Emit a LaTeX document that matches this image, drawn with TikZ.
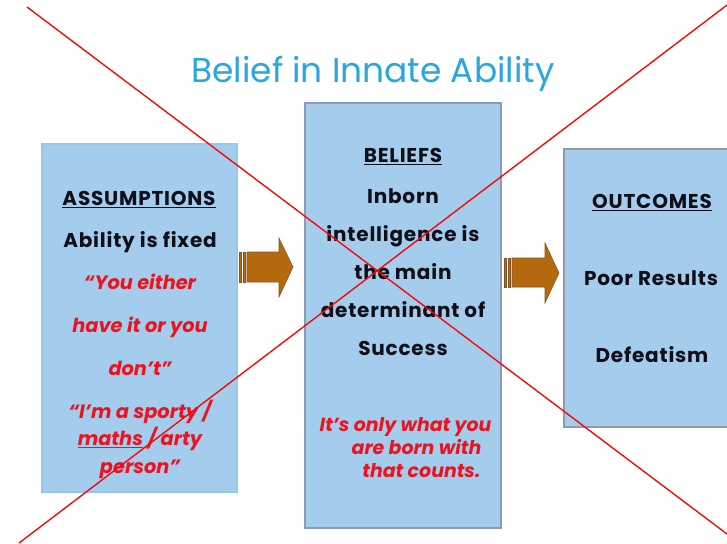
\documentclass[tikz,border=0pt]{standalone}
\usepackage{fontspec}
\setmainfont{Poppins}
\definecolor{titleblue}{RGB}{42,166,222}
\definecolor{boxblue}{RGB}{164,204,236}
\definecolor{boxline}{RGB}{140,155,175}
\definecolor{paleline}{RGB}{150,200,235}
\definecolor{arrowfill}{RGB}{181,105,15}
\definecolor{arrowline}{RGB}{130,85,40}
\definecolor{quotered}{RGB}{235,20,30}
\definecolor{inkblack}{RGB}{15,15,25}
\begin{document}
\begin{tikzpicture}[x=0.75pt,y=-0.75pt,
  panel/.style={fill=boxblue,draw=boxline,line width=0.8pt,inner sep=0pt},
  head/.style={anchor=base,text=inkblack,font=\fontsize{15}{18}\selectfont\bfseries\addfontfeature{LetterSpace=4}},
  plain/.style={anchor=base,text=inkblack,align=center,font=\fontsize{15}{28.5}\selectfont\bfseries\addfontfeature{LetterSpace=4}},
  quote/.style={anchor=base,text=quotered,align=center,font=\fontsize{14.5}{32}\selectfont\bfseries\itshape}]
\clip (0,0) rectangle (727,543);
\fill[white] (0,0) rectangle (727,543);
\node[anchor=base,text=titleblue,font=\fontsize{25.8}{30}\selectfont] (title) at (373,82) {Belief in Innate Ability};
% the three panels
\node[panel,draw=paleline,minimum width=146.25pt,minimum height=261pt] (asm) at (139.5,318) {};
\node[panel,minimum width=147pt,minimum height=318.75pt] (bel) at (403,315.5) {};
\node[panel,minimum width=132pt,minimum height=208.5pt] (out) at (652,288) {};
% left panel (multi-line nodes sit on their last baseline)
\node[head] (asmhead) at (139,205) {\underline{ASSUMPTIONS}};
\node[head] (fixed) at (140,247) {Ability is fixed};
\node[quote] (either) at (140,375) {“You either\\have it or you\\don’t”};
\node[quote,font=\fontsize{14.5}{20.6}\selectfont\bfseries\itshape] (sporty) at (140,473) {“I’m a sporty /\\\underline{maths} / arty\\person”};
% middle panel
\node[head] (belhead) at (403,162) {\underline{BELIEFS}};
\node[plain] (inborn) at (403,355) {Inborn\\intelligence is\\the main\\determinant of\\Success};
\node[quote,align=left,anchor=base west,font=\fontsize{14.2}{17}\selectfont\bfseries\itshape] (counts) at (315,477) {It’s only what you\\\hspace*{24pt}are born with\\\hspace*{32pt}that counts.};
% right panel
\node[head] (outhead) at (652,208) {\underline{OUTCOMES}};
\node[head] (poor) at (651,285) {Poor Results};
\node[head] (defeat) at (652,362) {Defeatism};
% striped arrows
\fill[arrowfill,draw=arrowline,line width=0.4pt] (239,252) rectangle (241.5,282);
\fill[arrowfill,draw=arrowline,line width=0.4pt] (243,252) rectangle (245,282);
\fill[arrowfill,draw=arrowline,line width=0.4pt] (247,252) -- (279,252) -- (279,238) -- (293,267) -- (279,297) -- (279,282) -- (247,282) -- cycle;
\fill[arrowfill,draw=arrowline,line width=0.4pt] (504,258) rectangle (506.5,287);
\fill[arrowfill,draw=arrowline,line width=0.4pt] (508,258) rectangle (510,287);
\fill[arrowfill,draw=arrowline,line width=0.4pt] (512,258) -- (545,258) -- (545,243) -- (559,273) -- (545,303) -- (545,287) -- (512,287) -- cycle;
% the cross over everything
\draw[red,line width=1pt] (27,7) -- (727,534);
\draw[red,line width=1pt] (727,5) -- (19,543);
\end{tikzpicture}
\end{document}
